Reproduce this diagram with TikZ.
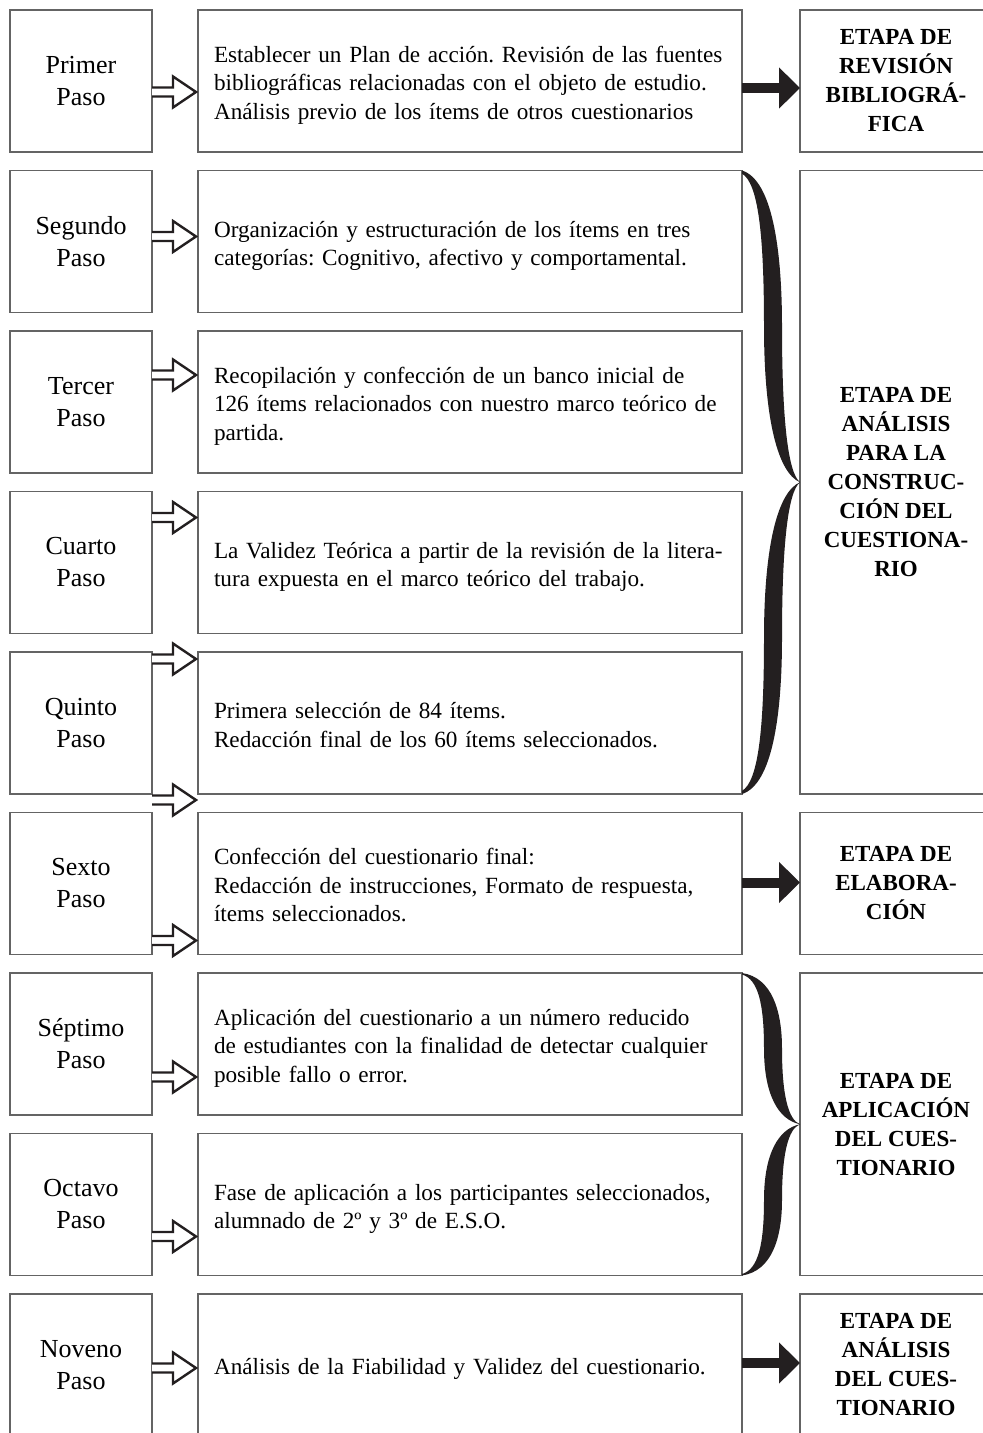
\documentclass[tikz,border=0pt]{standalone}
\usepackage{fontspec}
\setmainfont{Liberation Serif}
\frenchspacing
\usetikzlibrary{arrows.meta, positioning}
\tikzset{
    paso/.style={rectangle, draw=frame, line width=1.2pt, minimum width=142pt, minimum height=142pt, inner sep=0pt, outer sep=0pt, align=center, font=\fontsize{26}{32}\selectfont, execute at begin node={\rule{0pt}{35pt}}},
    desc/.style={rectangle, draw=frame, line width=1.2pt, text width=512pt, minimum height=142pt, inner xsep=16pt, inner ysep=0pt, outer sep=0pt, align=left, font=\fontsize{23.2}{28.5}\selectfont, execute at begin node={\rule{0pt}{29pt}}, execute at end node={\rule[-9.5pt]{0pt}{9.5pt}}},
    etapa/.style={rectangle, draw=frame, line width=1.2pt, minimum width=192pt, minimum height=142pt, inner sep=0pt, outer sep=0pt, align=center, font=\fontsize{23}{29}\selectfont\bfseries, execute at begin node={\rule{0pt}{33pt}}},
    bigarrow/.style={draw=ink, line width=10pt, -{Triangle[length=21pt, width=40pt]}},
    openarrow/.pic={\draw[draw=ink, fill=white, line width=2.4pt] (0,-4.5) -- (21,-4.5) -- (21,-15.5) -- (44,0) -- (21,15.5) -- (21,4.5) -- (0,4.5);},
    brace/.pic={\fill[ink] (0,0) .. controls (30,0.03) and (40,0.25) .. (40,0.5) .. controls (40,0.8) and (46,0.97) .. (58,1) .. controls (46,1.03) and (40,1.2) .. (40,1.5) .. controls (40,1.75) and (30,1.97) .. (0,2) -- (0,1.99) .. controls (16,1.96) and (22,1.8) .. (22,1.5) .. controls (22,1.2) and (36,1.03) .. (58,1) .. controls (36,0.97) and (22,0.8) .. (22,0.5) .. controls (22,0.2) and (16,0.04) .. (0,0.01) -- cycle;}
}
\definecolor{frame}{RGB}{100,100,100}
\definecolor{ink}{RGB}{35,31,32}

\begin{document}
\begin{tikzpicture}[x=1pt, y=-1pt, node distance=18.5pt]
    \useasboundingbox (0,0) rectangle (983,1433);
    \clip (0,0) rectangle (983,1433);

    % Steps
    \node (paso1) [paso] at (81,81) {Primer\\Paso};
    \node (paso2) [paso, below=of paso1] {Segundo\\Paso};
    \node (paso3) [paso, below=of paso2] {Tercer\\Paso};
    \node (paso4) [paso, below=of paso3] {Cuarto\\Paso};
    \node (paso5) [paso, below=of paso4] {Quinto\\Paso};
    \node (paso6) [paso, below=of paso5] {Sexto\\Paso};
    \node (paso7) [paso, below=of paso6] {Séptimo\\Paso};
    \node (paso8) [paso, below=of paso7] {Octavo\\Paso};
    \node (paso9) [paso, below=of paso8] {Noveno\\Paso};

    % Descriptions
    \node (desc1) [desc, right=46pt of paso1] {Establecer un Plan de acción. Revisión de las fuentes\\bibliográficas relacionadas con el objeto de estudio.\\Análisis previo de los ítems de otros cuestionarios};
    \node (desc2) [desc, right=46pt of paso2] {Organización y estructuración de los ítems en tres\\categorías: Cognitivo, afectivo y comportamental.};
    \node (desc3) [desc, right=46pt of paso3] {Recopilación y confección de un banco inicial de\\126 ítems relacionados con nuestro marco teórico de\\partida.};
    \node (desc4) [desc, right=46pt of paso4] {La Validez Teórica a partir de la revisión de la litera-\\tura expuesta en el marco teórico del trabajo.};
    \node (desc5) [desc, right=46pt of paso5] {Primera selección de 84 ítems.\\Redacción final de los 60 ítems seleccionados.};
    \node (desc6) [desc, right=46pt of paso6] {Confección del cuestionario final:\\Redacción de instrucciones, Formato de respuesta,\\ítems seleccionados.};
    \node (desc7) [desc, right=46pt of paso7] {Aplicación del cuestionario a un número reducido\\de estudiantes con la finalidad de detectar cualquier\\posible fallo o error.};
    \node (desc8) [desc, right=46pt of paso8] {Fase de aplicación a los participantes seleccionados,\\alumnado de 2º y 3º de E.S.O.};
    \node (desc9) [desc, right=46pt of paso9] {Análisis de la Fiabilidad y Validez del cuestionario.};

    % Stages
    \node (etapa1) [etapa, right=58pt of desc1] {ETAPA DE\\REVISIÓN\\BIBLIOGRÁ-\\FICA};
    \node (etapa2) [etapa, minimum height=623.5pt, below=of etapa1] {ETAPA DE\\ANÁLISIS\\PARA LA\\CONSTRUC-\\CIÓN DEL\\CUESTIONA-\\RIO};
    \node (etapa3) [etapa, right=58pt of desc6] {ETAPA DE\\ELABORA-\\CIÓN};
    \node (etapa4) [etapa, minimum height=302.5pt, below=of etapa3] {ETAPA DE\\APLICACIÓN\\DEL CUES-\\TIONARIO};
    \node (etapa5) [etapa, right=58pt of desc9] {ETAPA DE\\ANÁLISIS\\DEL CUES-\\TIONARIO};

    % Open arrows
    \pic at ([yshift=-82pt]paso1.north east) {openarrow};
    \pic at ([yshift=-66pt]paso2.north east) {openarrow};
    \pic at ([yshift=-44pt]paso3.north east) {openarrow};
    \pic at ([yshift=-26pt]paso4.north east) {openarrow};
    \pic at ([yshift=-7pt]paso5.north east) {openarrow};
    \pic at ([yshift=-148pt]paso5.north east) {openarrow};
    \pic at ([yshift=-128pt]paso6.north east) {openarrow};
    \pic at ([yshift=-104pt]paso7.north east) {openarrow};
    \pic at ([yshift=-103pt]paso8.north east) {openarrow};
    \pic at ([yshift=-74pt]paso9.north east) {openarrow};

    % Solid arrows
    \draw [bigarrow] ([yshift=-78pt]desc1.north east) -- ([yshift=-78pt]etapa1.north west);
    \draw [bigarrow] ([yshift=-70pt]desc6.north east) -- ([yshift=-70pt]etapa3.north west);
    \draw [bigarrow] ([yshift=-69pt]desc9.north east) -- ([yshift=-69pt]etapa5.north west);

    % Braces
    \pic [yscale=311.75] at (desc2.north east) {brace};
    \pic [yscale=151.25] at (desc7.north east) {brace};
\end{tikzpicture}
\end{document}
